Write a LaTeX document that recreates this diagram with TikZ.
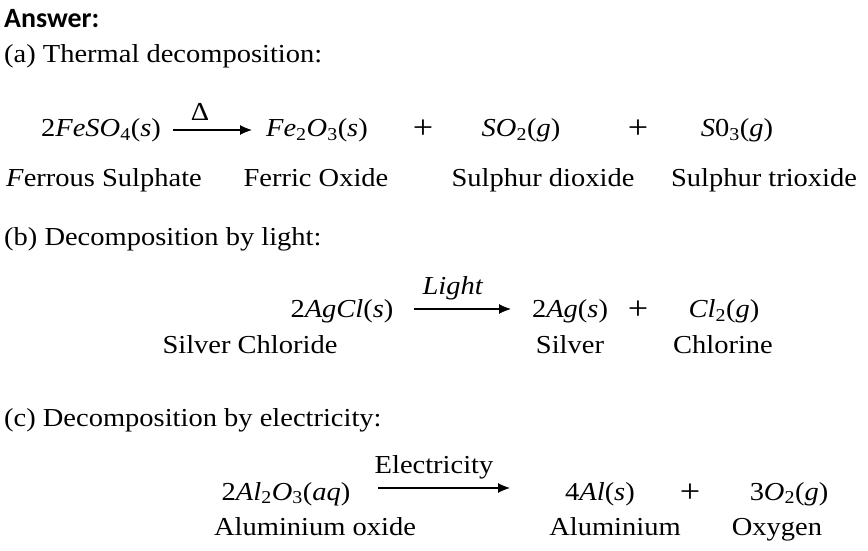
\documentclass[tikz,border=0pt]{standalone}
\usepackage{fontspec}
\setmainfont{Liberation Serif}[FakeStretch=1.1]
\newfontfamily\headfont{Carlito}
\newcommand{\chsub}[1]{\textsubscript{#1}}
\usetikzlibrary{arrows.meta}
\begin{document}
\begin{tikzpicture}[x=1bp,y=-1bp,
  txt/.style={inner sep=0pt, anchor=base, font=\fontsize{26}{30}\selectfont},
  plus/.style={inner sep=0pt, anchor=base, font=\fontsize{33}{36}\selectfont},
  head/.style={inner sep=0pt, anchor=base west, font=\fontsize{26}{30}\selectfont},
  arr/.style={line width=1.1bp, -{Latex[length=12bp,width=10bp]}}]
\useasboundingbox (0,0) rectangle (868,551);
\fill[white] (0,0) rectangle (868,551);
% headings
\node[head, font=\headfont\bfseries\fontsize{28}{30}\selectfont] (ans) at (4,28) {Answer:};
\node[head] (ha) at (4,63) {(a) Thermal decomposition:};
\node[head] (hb) at (4,246) {(b) Decomposition by light:};
\node[head] (hc) at (4,426) {(c) Decomposition by electricity:};
% (a)
\node[txt] (a1) at (101,137) {2\textit{FeSO}\chsub{4}(\textit{s})};
\coordinate (a1e) at (173,130);
\coordinate (a2s) at (252,130);
\draw[arr] (a1e) -- (a2s);
\node[txt] (adelta) at (200,121) {Δ};
\node[txt] (a2) at (317,137) {\textit{Fe}\chsub{2}\textit{O}\chsub{3}(\textit{s})};
\node[plus] (ap1) at (423,139) {+};
\node[txt] (a3) at (521,137) {\textit{SO}\chsub{2}(\textit{g})};
\node[plus] (ap2) at (638,139) {+};
\node[txt] (a4) at (737,137) {\textit{S}0\chsub{3}(\textit{g})};
\node[txt] (la1) at (104,187) {\textit{F}errous Sulphate};
\node[txt] (la2) at (316,187) {Ferric Oxide};
\node[txt] (la3) at (543,187) {Sulphur dioxide};
\node[txt] (la4) at (764,187) {Sulphur trioxide};
% (b)
\node[txt] (b1) at (342,318) {2\textit{AgCl}(\textit{s})};
\coordinate (b1e) at (414,309);
\coordinate (b2s) at (511,309);
\draw[arr] (b1e) -- (b2s);
\node[txt] (blight) at (453,295) {\textit{Light}};
\node[txt] (b2) at (570,318) {2\textit{Ag}(\textit{s})};
\node[plus] (bp) at (638,320) {+};
\node[txt] (b3) at (724,318) {\textit{Cl}\chsub{2}(\textit{g})};
\node[txt] (lb1) at (250,353) {Silver Chloride};
\node[txt] (lb2) at (570,353) {Silver};
\node[txt] (lb3) at (723,353) {Chlorine};
% (c)
\node[txt] (c1) at (286,500) {2\textit{Al}\chsub{2}\textit{O}\chsub{3}(\textit{aq})};
\coordinate (c1e) at (378,488);
\coordinate (c2s) at (510,488);
\draw[arr] (c1e) -- (c2s);
\node[txt] (celec) at (434,473) {Electricity};
\node[txt] (c2) at (600,500) {4\textit{Al}(\textit{s})};
\node[plus] (cp) at (690,502) {+};
\node[txt] (c3) at (789,500) {3\textit{O}\chsub{2}(\textit{g})};
\node[txt] (lc1) at (315,535) {Aluminium oxide};
\node[txt] (lc2) at (615,535) {Aluminium};
\node[txt] (lc3) at (777,535) {Oxygen};
\end{tikzpicture}
\end{document}
